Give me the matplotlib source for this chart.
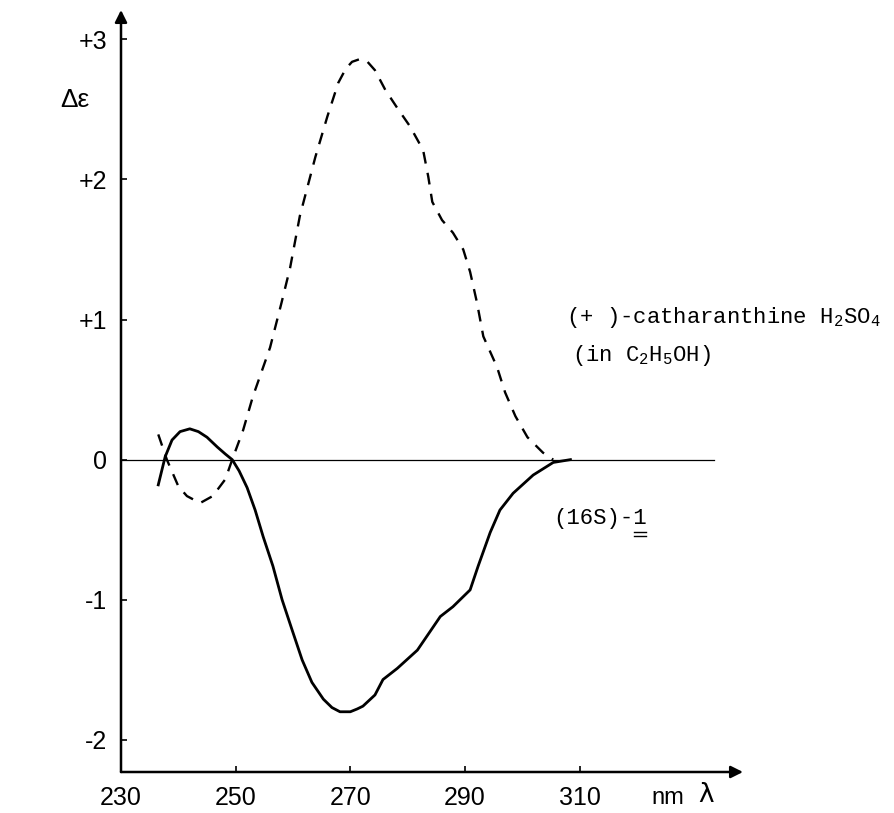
import matplotlib.pyplot as plt
import numpy as np

plt.rcParams['mathtext.fontset'] = 'custom'
plt.rcParams['mathtext.rm'] = 'Liberation Mono'
plt.rcParams['mathtext.default'] = 'rm'

# dashed curve: (+)-catharanthine H2SO4
dash_x = [236.5, 238.0, 240.0, 241.5, 243.8, 246.0, 248.2, 249.4, 251.3, 253.0,
          256.0, 258.0, 259.5, 261.2, 263.9, 266.0, 267.9, 269.2, 270.3, 271.7, 273.0, 274.3,
          276.1, 278.2, 280.4, 282.7, 283.6, 284.3, 286.0, 287.9, 289.7, 290.9,
          292.1, 293.2, 295.6, 297.0, 298.8, 300.9, 303.6, 305.4]
dash_y = [0.18, 0.0, -0.19, -0.26, -0.31, -0.26, -0.14, 0.0, 0.21, 0.45,
          0.80, 1.12, 1.37, 1.74, 2.16, 2.45, 2.69, 2.79, 2.84, 2.86, 2.84, 2.78,
          2.64, 2.51, 2.38, 2.21, 2.02, 1.84, 1.71, 1.62, 1.50, 1.34,
          1.12, 0.88, 0.66, 0.48, 0.31, 0.16, 0.05, 0.0]

# solid curve: (16S)-1
sol_x = [236.5, 237.7, 238.9, 240.3, 242.0, 243.5, 245.0, 246.8, 248.2, 249.4, 250.6, 252.0,
         253.4, 254.8, 256.5, 258.1, 259.8, 261.6, 263.3, 265.3, 266.8, 268.2, 270.0,
         271.2, 272.2, 274.3, 275.7, 278.2, 281.7, 285.7, 287.9, 290.9, 292.3, 294.4,
         296.1, 298.4, 301.9, 305.4, 308.4]
sol_y = [-0.18, 0.02, 0.14, 0.20, 0.22, 0.20, 0.16, 0.09, 0.04, 0.0, -0.08, -0.20,
         -0.36, -0.55, -0.76, -1.0, -1.21, -1.43, -1.59, -1.71, -1.77, -1.80, -1.80,
         -1.78, -1.76, -1.68, -1.57, -1.49, -1.36, -1.12, -1.05, -0.93, -0.76, -0.52,
         -0.36, -0.24, -0.11, -0.02, 0.0]

xticks = [230, 250, 270, 290, 310]
yticks = [-2, -1, 0, 1, 2, 3]
ylabels = ['-2', '-1', '0', '+1', '+2', '+3']

fig = plt.figure(figsize=(8.94, 8.13), dpi=100)
ax = fig.add_axes([121/894, 1-772/813, (743-121)/894, (772-10)/813])
ax.set_xlim(230, 338.5)
ax.set_ylim(-2.23, 3.21)

for s in ax.spines.values():
    s.set_visible(False)

# axes with arrows
ax.annotate('', xy=(1, 0), xytext=(0, 0), xycoords='axes fraction',
            arrowprops=dict(arrowstyle='-|>', lw=1.8, color='black',
                            mutation_scale=18, shrinkA=0, shrinkB=0))
ax.annotate('', xy=(0, 1), xytext=(0, 0), xycoords='axes fraction',
            arrowprops=dict(arrowstyle='-|>', lw=1.8, color='black',
                            mutation_scale=18, shrinkA=0, shrinkB=0))

# zero line
ax.plot([230, 333.5], [0, 0], color='black', lw=0.9)

ax.plot(sol_x, sol_y, color='black', lw=2.0, solid_joinstyle='round')
ax.plot(dash_x, dash_y, color='black', lw=1.7, dashes=(5, 4))

ax.set_xticks(xticks)
ax.set_xticklabels([str(t) for t in xticks])
ax.set_yticks(yticks)
ax.set_yticklabels(ylabels)
ax.tick_params(direction='in', length=4, width=1.2, color='black')
ax.tick_params(axis='x', pad=10)
ax.tick_params(axis='y', pad=10)
sans = ['Liberation Sans Narrow', 'Liberation Sans', 'DejaVu Sans']
for lab in ax.get_xticklabels() + ax.get_yticklabels():
    lab.set_family(sans)
    lab.set_fontsize(18)

fig.text(75/894, 1-100/813, 'Δε', ha='center', va='center', fontsize=19, family=sans)
fig.text(668/894, 1-798/813, 'nm', ha='center', va='center', fontsize=17, family=sans)
fig.text(706/894, 1-795/813, 'λ', ha='center', va='center', fontsize=19, family='DejaVu Sans')

mono = 'Liberation Mono'
fig.text(566/894, 1-317/813, '(+ )-catharanthine H$_2$SO$_4$', ha='left', va='center',
         fontsize=16, family=mono)
fig.text(572/894, 1-355/813, '(in C$_2$H$_5$OH)', ha='left', va='center',
         fontsize=16, family=mono)
fig.text(553/894, 1-518/813, '(16S)-1', ha='left', va='center', fontsize=16, family=mono)
# double underline under the "1"
for yy in (532, 536):
    fig.add_artist(plt.Line2D([634/894, 646/894], [1-yy/813, 1-yy/813], color='black', lw=1.0))

fig.savefig('out.png', dpi=100)
